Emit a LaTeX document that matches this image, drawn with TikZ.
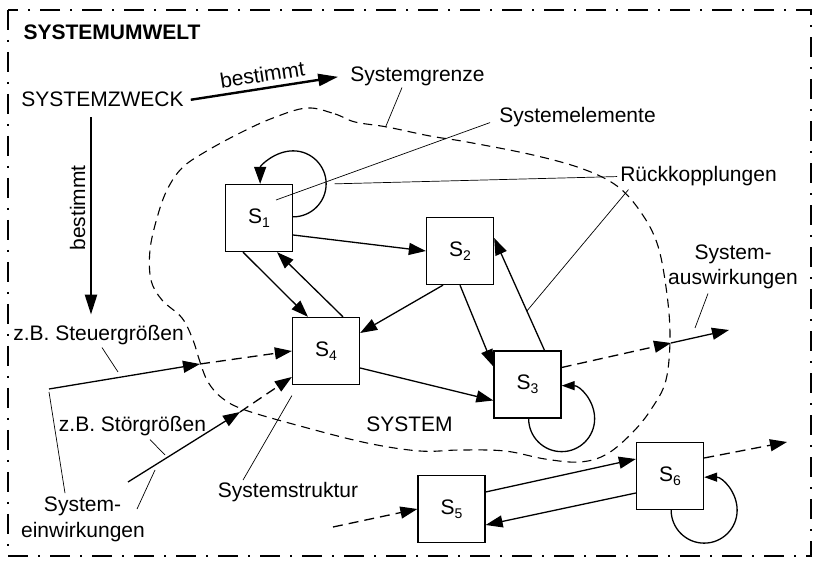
\documentclass[tikz,border=0pt]{standalone}
\usepackage{fontspec}
\setmainfont{Liberation Sans}
\usetikzlibrary{arrows.meta,calc}
% lowered index digit for the element names S1 ... S6
\newcommand\idx[1]{\raisebox{-4pt}{\fontsize{14}{14}\selectfont #1}}
\begin{document}
\begin{tikzpicture}[x=1pt,y=-1pt,
  font=\fontsize{21}{25}\selectfont,
  box/.style={draw, line width=1.3pt, minimum size=67pt, inner sep=0pt},
  lab/.style={inner sep=0pt, anchor=base},
  flow/.style={line width=1.3pt, -{Triangle[length=17pt,width=12pt]}},
  dflow/.style={flow, dash pattern=on 10pt off 6pt},
  strong/.style={line width=2.4pt, -{Triangle[length=20pt,width=12pt]}},
  loopflow/.style={line width=1.3pt, -{Triangle[length=13pt,width=9pt]}},
  leader/.style={line width=0.7pt},
  frame/.style={line width=2.2pt, dash pattern=on 20pt off 10pt on 2pt off 10pt},
  boundary/.style={line width=1.1pt, dash pattern=on 9pt off 6pt}]

\useasboundingbox (0,0) rectangle (815,561);

% environment frame
\draw[frame] (8,10) rectangle (811,556);

% system boundary
\draw[boundary] plot[smooth cycle, tension=0.6] coordinates {
  (307,108) (335,114) (355,122) (387,127) (430,136) (467,142) (533,155)
  (583,169) (617,186) (640,211) (657,243) (666,287) (670,335) (666,380)
  (652,408) (633,432) (607,454) (580,462) (545,459) (505,451) (460,450)
  (420,451) (367,443) (300,426) (245,410) (222,398) (208,382) (200,362)
  (193,340) (182,318) (162,300) (151,280) (150,250) (157,218) (167,190)
  (182,168) (205,152) (240,133) (273,118)};

% elements
\node[box] (s1) at (259,218) {S\idx{1}};
\node[box] (s2) at (460,251) {S\idx{2}};
\node[box] (s3) at (527.5,384.5) {S\idx{3}};
\node[box] (s4) at (326,351) {S\idx{4}};
\node[box] (s5) at (451.5,509) {S\idx{5}};
\node[box] (s6) at (670,476) {S\idx{6}};

% labels
\node[lab, font=\fontsize{21}{25}\selectfont\bfseries] (umwelt) at (112,40) {SYSTEMUMWELT};
\node[lab] (zweck) at (102.5,107) {SYSTEMZWECK};
\node[lab] (grenze) at (417.5,82) {Systemgrenze};
\node[lab] (elem) at (577.5,123) {Systemelemente};
\node[lab] (rueck) at (698.5,182) {Rückkopplungen};
\node[lab] (ausw1) at (733,260) {System-};
\node[lab] (ausw2) at (733,285) {auswirkungen};
\node[lab] (steuer) at (98.5,341) {z.B. Steuergrößen};
\node[lab] (stoer) at (132.5,432) {z.B. Störgrößen};
\node[lab] (einw1) at (82.5,512) {System-};
\node[lab] (einw2) at (83,537) {einwirkungen};
\node[lab] (struktur) at (288,498) {Systemstruktur};
\node[lab] (sysl) at (409.5,432) {SYSTEM};
\node[lab, rotate=90] (best2) at (85,208) {bestimmt};

% free ends and leader targets
\coordinate (out6) at (787,442);
\coordinate (in5) at (333,527);
\coordinate (auscross) at (671,343);
\coordinate (ausend) at (729,330);
\coordinate (steuerstart) at (49,389);
\coordinate (steuercross) at (200,364);
\coordinate (stoerstart) at (128,482);
\coordinate (stoercross) at (240,412);
\coordinate (grenzetick) at (386,126);
\coordinate (auswtick) at (695,328);
\coordinate (steuertick) at (118,372);
\coordinate (stoertick) at (165,455);
\coordinate (einwtick) at (155,470);

% purpose arrows
\draw[strong] ([xshift=7pt]zweck.east) -- node[sloped, above=5pt, inner sep=0pt] (best1) {bestimmt} ([xshift=-12pt]grenze.west);
\draw[strong] ([xshift=-11.5pt,yshift=-10pt]zweck.south) -- ([xshift=-7.5pt,yshift=11pt]steuer.north);

% relations between elements
\draw[flow] ([yshift=-17pt]s1.east) -- (s2.west);
\draw[flow] ([xshift=-16pt]s1.south) -- ([xshift=-18pt]s4.north);
\draw[flow] ([xshift=17pt]s4.north) -- ([xshift=18pt]s1.south);
\draw[flow] ([xshift=-17pt]s2.south) -- ([yshift=18pt]s4.east);
\draw[flow] (s2.south) -- ([yshift=18pt]s3.west);
\draw[flow] ([xshift=17pt]s3.north) -- coordinate[pos=0.35] (fb) ([yshift=13pt]s2.east);
\draw[flow] ([yshift=-17pt]s4.east) -- ([yshift=-16pt]s3.west);
\draw[flow] ([yshift=17pt]s5.east) -- ([yshift=17pt]s6.west);
\draw[flow] ([yshift=-17pt]s6.west) -- ([yshift=-16pt]s5.east);

% feedback loops
\draw[flow] ([yshift=-33pt]s1.north east) arc[start angle=-90, end angle=180, radius=33pt];
\draw[loopflow] ([xshift=-33pt]s3.south east) arc[start angle=180, end angle=450, radius=33pt];
\draw[loopflow] ([xshift=-33pt]s6.south east) arc[start angle=180, end angle=450, radius=33pt];

% inputs and outputs
\draw[flow] (steuerstart) -- (steuercross);
\draw[dflow] (steuercross) -- (s4.west);
\draw[flow] (stoerstart) -- (stoercross);
\draw[dflow] (stoercross) -- ([yshift=-26pt]s4.west);
\draw[dflow] ([yshift=17pt]s3.east) -- (auscross);
\draw[flow] (auscross) -- (ausend);
\draw[dflow] ([yshift=18pt]s6.east) -- (out6);
\draw[dflow] (in5) -- (s5.west);

% leader lines
\draw[leader] ([xshift=-15.5pt,yshift=-1pt]grenze.south) -- (grenzetick);
\draw[leader] ([xshift=-9pt,yshift=-5pt]elem.west) -- ([xshift=17pt,yshift=18pt]s1.center);
\draw[leader] ([xshift=-3pt]rueck.west) -- ([xshift=41.5pt]s1.north east);
\draw[leader] ([xshift=-70pt,yshift=-3pt]rueck.south) -- (fb);
\draw[leader] ([xshift=-25pt,yshift=-4pt]ausw2.south) -- (auswtick);
\draw[leader] ([xshift=3.5pt,yshift=-2pt]steuer.south) -- (steuertick);
\draw[leader] ([xshift=17.5pt,yshift=-3pt]stoer.south) -- (stoertick);
\draw[leader] ([yshift=-3pt]steuerstart) -- ([xshift=-17.5pt,yshift=4pt]einw1.north);
\draw[leader] ([xshift=54pt,yshift=12.5pt]einw2.north) -- (einwtick);
\draw[leader] ([xshift=-45pt,yshift=2.5pt]struktur.north) -- ([yshift=-10.5pt]s4.south west);

\end{tikzpicture}
\end{document}
